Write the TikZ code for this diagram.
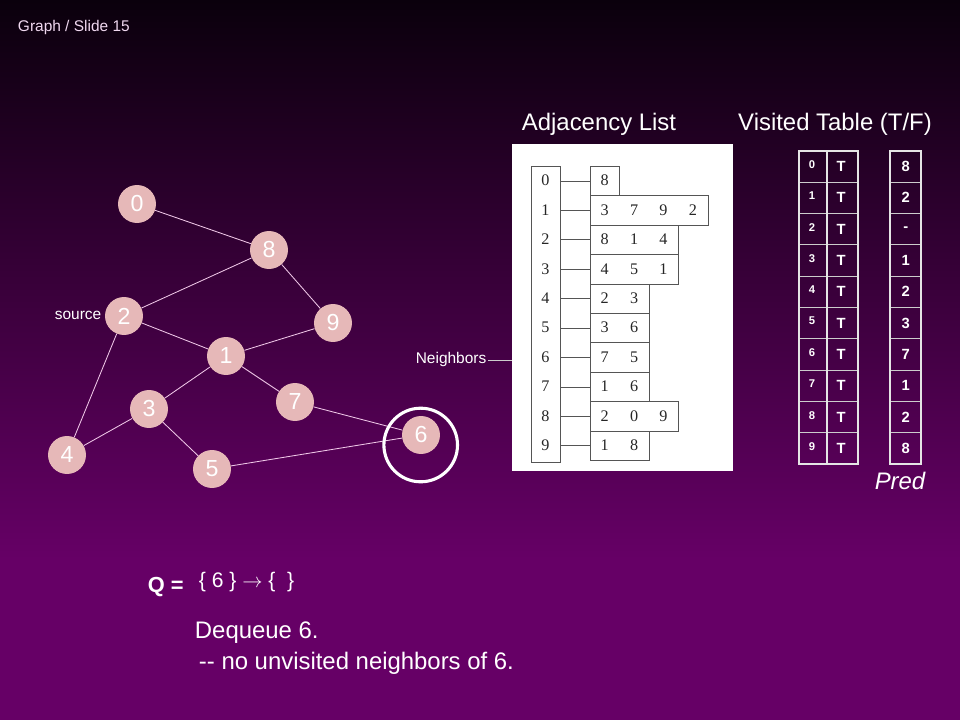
\documentclass[tikz,border=0pt]{standalone}
\usepackage{fontspec}
\setmainfont{Liberation Sans}
\newfontfamily\listfont{Liberation Serif}
\usetikzlibrary{positioning}

\definecolor{bgtop}{HTML}{0A000C}
\definecolor{bgbot}{HTML}{660066}
\definecolor{vertexfill}{HTML}{E6B8B8}
\definecolor{edgecol}{HTML}{F0C8E8}
\definecolor{slidecol}{HTML}{F0D8F0}
\definecolor{listcol}{HTML}{555555}

\begin{document}
\begin{tikzpicture}[x=0.025cm, y=-0.025cm,
    vertex/.style={circle, fill=vertexfill, minimum size=27pt, inner sep=0pt, text=white, font=\fontsize{16.5}{18}\selectfont},
    edge/.style={draw=edgecol, line width=0.6pt},
    title/.style={text=white, font=\fontsize{17}{20}\selectfont},
    smalltext/.style={text=white, font=\fontsize{11}{13}\selectfont, inner sep=1pt},
    listline/.style={draw=listcol, line width=0.7pt},
    listnum/.style={text=black!85, font=\listfont\fontsize{11.5}{13}\selectfont},
    tableline/.style={draw=white!90!black, line width=1.4pt},
    rowline/.style={draw=white!80!black, line width=0.7pt},
    flag/.style={text=white, font=\bfseries\fontsize{10.5}{12}\selectfont},
    idxnum/.style={text=white, font=\bfseries\fontsize{8}{9}\selectfont}]

    % background
    \fill[bgbot] (0,0) rectangle (960,720);
    \shade[top color=bgtop, bottom color=bgbot] (0,0) rectangle (960,560);
    \useasboundingbox (0,0) rectangle (960,720);

    \node[anchor=west, text=slidecol, font=\fontsize{11}{13}\selectfont] (slide) at (13,28) {Graph / Slide 15};

    % graph
    \foreach \v/\x/\y in {0/137/204, 8/269/250, 2/124/316, 9/333/323, 1/226/356,
                          7/295/402, 3/149/409, 6/421/435, 4/67/455, 5/212/469}
        \node[vertex] (v\v) at (\x,\y) {\v};
    \foreach \a/\b in {0/8, 8/2, 8/9, 2/1, 2/4, 9/1, 1/3, 1/7, 3/4, 3/5, 7/6, 5/6}
        \draw[edge] (v\a) -- (v\b);
    \node[circle, draw=white, line width=2.2pt, minimum size=1.84cm] (ring) at (420.7,445) {};
    \node[smalltext, anchor=east] (source) at (103,315) {source};

    % adjacency list
    \node[title] (adjtitle) at (599,124) {Adjacency List};
    \node[fill=white, inner sep=0pt, minimum width=5.525cm, minimum height=8.175cm, anchor=north west] (adjbox) at (512,144) {};
    \node[listline, inner sep=0pt, minimum width=0.7325cm, minimum height=7.4cm, anchor=north west] (col) at (530.7,166) {};
    \foreach \i/\list/\cnt in {0/{8}/1, 1/{3,7,9,2}/4, 2/{8,1,4}/3, 3/{4,5,1}/3, 4/{2,3}/2,
                               5/{3,6}/2, 6/{7,5}/2, 7/{1,6}/2, 8/{2,0,9}/3, 9/{1,8}/2} {
        \node[listline, inner sep=0pt, minimum width=0.735cm*\cnt, minimum height=0.735cm, anchor=north west] (row\i) at (590,166+29.4*\i) {};
        \node[listnum] (idx\i) at (545.3,180.7+29.4*\i) {\i};
        \draw[listline] (col.east |- row\i.west) -- (row\i.west);
        \foreach \n [count=\k from 0] in \list
            \node[listnum] at (604.7+29.4*\k,180.7+29.4*\i) {\n};
    }
    \node[smalltext, anchor=east] (nbr) at (488,360) {Neighbors};
    \draw[draw=white!80!black, line width=0.6pt] (nbr.east) -- (nbr.east -| adjbox.west);

    % visited table and predecessors
    \node[title] (vistitle) at (835,124) {Visited Table (T/F)};
    \foreach \i in {1,...,9} {
        \draw[rowline] (798.7,150.7+31.33*\i) -- (857.7,150.7+31.33*\i);
        \draw[rowline] (890.3,150.7+31.33*\i) -- (921.3,150.7+31.33*\i);
    }
    \draw[tableline] (798.7,150.7) rectangle (857.7,464);
    \draw[tableline] (826.7,150.7) -- (826.7,464);
    \draw[tableline] (890.3,150.7) rectangle (921.3,464);
    \foreach \i/\p in {0/8, 1/2, 2/-, 3/1, 4/2, 5/3, 6/7, 7/1, 8/2, 9/8} {
        \node[idxnum] at (812,164.5+31.33*\i) {\i};
        \node[flag] at (841,166.4+31.33*\i) {T};
        \node[flag] at (905.8,166.4+31.33*\i) {\p};
    }
    \node[text=white, font=\itshape\fontsize{17}{20}\selectfont] (pred) at (900,481) {Pred};

    % queue
    \node[anchor=west, text=white, font=\bfseries\fontsize{15.5}{18}\selectfont] (q) at (143,587) {Q =};
    \node[anchor=west, text=white, font=\fontsize{15}{18}\selectfont] (qval) at (194,582) {\{ 6 \} $\rightarrow$ \{ \ \}};
    \node[anchor=west, text=white, font=\fontsize{17}{20}\selectfont] (deq) at (190,633) {Dequeue 6.};
    \node[anchor=west, text=white, font=\fontsize{17}{20}\selectfont] (note) at (194,663) {-{}- no unvisited neighbors of 6.};
\end{tikzpicture}
\end{document}
